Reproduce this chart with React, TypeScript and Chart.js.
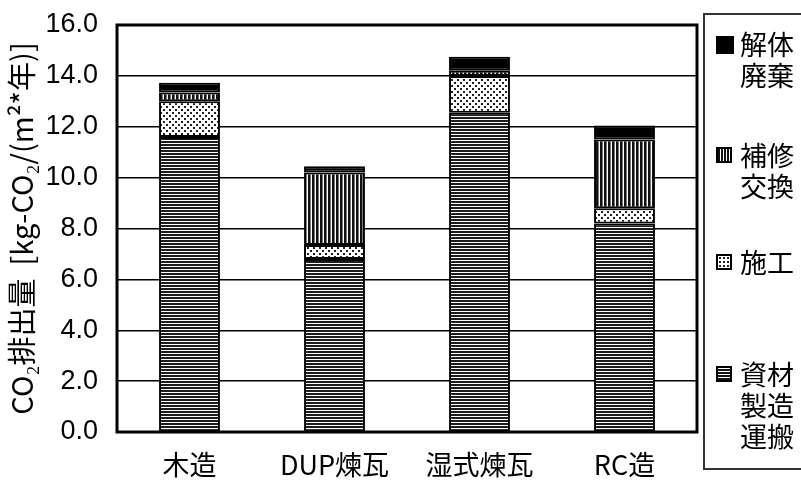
import React, { useEffect, useRef } from "react";
import { Chart, registerables } from "chart.js";

Chart.register(...registerables);

const categories = ["木造", "DUP煉瓦", "湿式煉瓦", "RC造"];
const shizai = [11.6, 6.8, 12.55, 8.2];
const sekou = [1.4, 0.55, 1.45, 0.6];
const hoshu = [0.35, 2.85, 0.2, 2.7];
const kaitai = [0.38, 0.25, 0.55, 0.55];
const yTicks = [0, 2, 4, 6, 8, 10, 12, 14, 16];
const yTitle = "CO₂排出量  [kg-CO₂/(m²*年)]";

const legendItems = [
  { lines: ["解体", "廃棄"], kind: "solid", top: 28 },
  { lines: ["補修", "交換"], kind: "v", top: 139 },
  { lines: ["施工"], kind: "dots", top: 246 },
  { lines: ["資材", "製造", "運搬"], kind: "h", top: 358 },
];

function makePattern(kind: string): CanvasPattern | string {
  const c = document.createElement("canvas");
  const ctx = c.getContext("2d")!;
  if (kind === "h") {
    c.width = 4; c.height = 3;
    ctx.fillStyle = "#fff"; ctx.fillRect(0, 0, 4, 3);
    ctx.fillStyle = "#1c1c1c"; ctx.fillRect(0, 0, 4, 2);
  } else if (kind === "v") {
    c.width = 4; c.height = 4;
    ctx.fillStyle = "#fff"; ctx.fillRect(0, 0, 4, 4);
    ctx.fillStyle = "#111"; ctx.fillRect(0, 0, 2, 4);
    ctx.fillStyle = "#777"; ctx.fillRect(2, 0, 1, 4);
  } else if (kind === "dots") {
    c.width = 6; c.height = 6;
    ctx.fillStyle = "#fff"; ctx.fillRect(0, 0, 6, 6);
    ctx.fillStyle = "#222";
    ctx.fillRect(1, 1, 2, 2);
    ctx.fillRect(4, 4, 2, 2);
  } else {
    return "#000";
  }
  return ctx.createPattern(c, "repeat")!;
}

const swatchBg: Record<string, string> = {
  solid: "#000",
  v: "repeating-linear-gradient(90deg, #111 0 2px, #fff 2px 3px)",
  dots: "radial-gradient(circle, #222 40%, transparent 45%) 0 0/4px 4px, #fff",
  h: "repeating-linear-gradient(0deg, #111 0 2px, #fff 2px 3px)",
};

export default function App() {
  const ref = useRef<HTMLCanvasElement | null>(null);

  useEffect(() => {
    if (!ref.current) return;
    const borderPlugin = {
      id: "plotBorder",
      afterDraw(chart: any) {
        const { ctx, chartArea } = chart;
        ctx.save();
        ctx.strokeStyle = "#000";
        ctx.lineWidth = 3;
        ctx.strokeRect(chartArea.left, chartArea.top, chartArea.right - chartArea.left, chartArea.bottom - chartArea.top);
        ctx.restore();
      },
    };
    const common = {
      borderColor: "#000",
      borderWidth: 2,
      borderSkipped: false,
      barPercentage: 0.42,
      categoryPercentage: 1,
    };
    const chart = new Chart(ref.current, {
      type: "bar",
      data: {
        labels: categories,
        datasets: [
          { label: "資材製造運搬", data: shizai, backgroundColor: makePattern("h") as any, ...common },
          { label: "施工", data: sekou, backgroundColor: makePattern("dots") as any, ...common },
          { label: "補修交換", data: hoshu, backgroundColor: makePattern("v") as any, ...common },
          { label: "解体廃棄", data: kaitai, backgroundColor: "#000", ...common },
        ],
      },
      options: {
        animation: false,
        responsive: false,
        layout: { padding: { top: 25, right: 104, left: 0, bottom: 0 } },
        plugins: { legend: { display: false }, tooltip: { enabled: false } },
        scales: {
          x: {
            stacked: true,
            grid: { display: false },
            border: { display: false },
            ticks: {
              color: "#000",
              font: { family: "'Noto Sans CJK JP'", size: 27 },
              padding: 9,
            },
            afterFit: (s: any) => { s.height = 53; s.paddingLeft = 0; s.paddingRight = 0; },
          },
          y: {
            stacked: true,
            min: 0,
            max: 16,
            afterBuildTicks: (s: any) => { s.ticks = yTicks.map((v) => ({ value: v })); },
            grid: { color: "#000", lineWidth: 1.5, drawTicks: false },
            border: { display: false },
            ticks: {
              color: "#000",
              font: { family: "'Liberation Sans', Arial", size: 27 },
              padding: 19,
              callback: (v: any) => Number(v).toFixed(1),
            },
            title: {
              display: true,
              text: yTitle,
              color: "#000",
              font: { family: "'Noto Sans CJK JP'", size: 29 },
              padding: { top: 5, bottom: 0 },
            },
            afterFit: (s: any) => { s.width = 117; s.paddingTop = 0; s.paddingBottom = 0; },
          },
        },
      },
      plugins: [borderPlugin],
    });
    return () => chart.destroy();
  }, []);

  return (
    <div style={{ position: "absolute", left: 0, top: 0, width: 801, height: 485, background: "#fff", overflow: "hidden" }}>
      <canvas ref={ref} width={801} height={485} style={{ position: "absolute", left: 0, top: 0 }} />
      <div
        style={{
          position: "absolute",
          left: 703,
          top: 13,
          width: 110,
          height: 457,
          border: "2px solid #333",
          boxSizing: "border-box",
        }}
      />
      {legendItems.map((it) => (
        <div key={it.kind} style={{ position: "absolute", left: 714, top: it.top, fontFamily: "'Noto Sans CJK JP'", fontSize: 27, lineHeight: "31px", color: "#000" }}>
          <div
            style={{
              position: "absolute",
              left: 2,
              top: 8,
              width: it.kind === "solid" ? 18 : 16,
              height: it.kind === "solid" ? 18 : 16,
              background: swatchBg[it.kind],
              border: it.kind === "solid" ? "none" : "2px solid #000",
              boxSizing: "border-box",
            }}
          />
          <div style={{ marginLeft: 26, whiteSpace: "nowrap" }}>
            {it.lines.map((l) => (
              <div key={l}>{l}</div>
            ))}
          </div>
        </div>
      ))}
    </div>
  );
}
